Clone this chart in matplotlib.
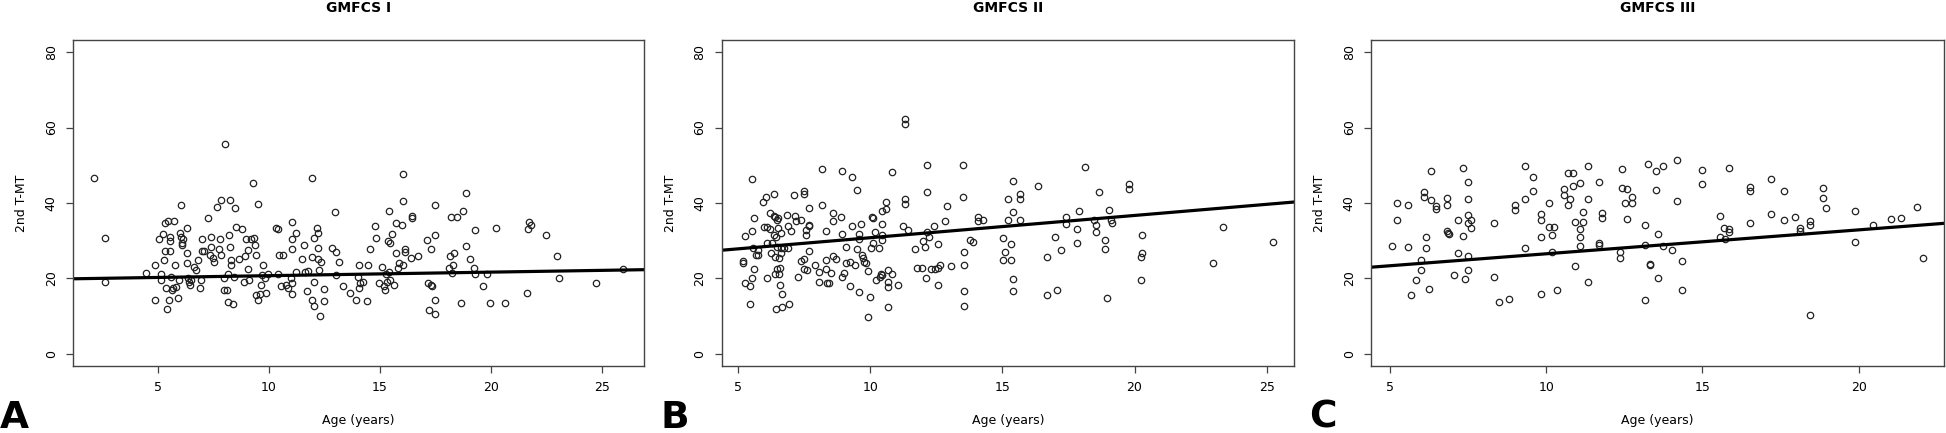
import matplotlib
matplotlib.use("Agg")
import matplotlib.pyplot as plt
import numpy as np

plt.rcParams['font.family'] = ['DejaVu Sans']

# GMFCS I : age (years) vs 2nd T-MT
age_1 = [2.14, 2.64, 2.62, 4.45, 4.88, 4.88, 5.06, 5.14, 5.16, 5.25, 5.29, 5.31, 5.33, 5.39, 5.43,
         5.47, 5.53, 5.55, 5.56, 5.58, 5.51, 5.62, 5.68, 5.72, 5.78, 5.82, 5.92, 5.97, 6.01, 6.03,
         6.05, 6.07, 6.11, 6.15, 6.30, 6.30, 6.32, 6.36, 6.40, 6.44, 6.50, 6.62, 6.73, 6.79, 6.89,
         6.93, 6.99, 6.99, 7.08, 7.28, 7.36, 7.40, 7.41, 7.47, 7.53, 7.67, 7.77, 7.82, 7.86, 7.86,
         7.96, 7.98, 8.04, 8.10, 8.14, 8.15, 8.21, 8.25, 8.27, 8.29, 8.31, 8.39, 8.45, 8.47, 8.51,
         8.64, 8.80, 8.88, 8.93, 8.99, 9.05, 9.07, 9.11, 9.19, 9.28, 9.32, 9.38, 9.40, 9.42, 9.50,
         9.52, 9.58, 9.65, 9.69, 9.73, 9.81, 9.89, 9.97, 10.32, 10.39, 10.41, 10.47, 10.55, 10.63, 10.78,
         10.88, 10.98, 11.02, 11.02, 11.02, 11.02, 11.06, 11.21, 11.23, 11.47, 11.56, 11.62, 11.72, 11.76, 11.95,
         11.95, 11.95, 12.03, 12.03, 12.03, 12.15, 12.21, 12.21, 12.22, 12.26, 12.30, 12.36, 12.48, 12.48, 12.83,
         12.96, 13.02, 13.04, 13.14, 13.32, 13.63, 13.90, 14.00, 14.04, 14.06, 14.09, 14.25, 14.39, 14.46, 14.54,
         14.77, 14.80, 14.97, 15.09, 15.19, 15.23, 15.25, 15.31, 15.36, 15.38, 15.38, 15.44, 15.46, 15.54, 15.62,
         15.70, 15.73, 15.79, 15.85, 15.99, 16.04, 16.04, 16.04, 16.14, 16.14, 16.37, 16.45, 16.45, 16.70, 17.11,
         17.17, 17.21, 17.27, 17.31, 17.33, 17.46, 17.46, 17.46, 17.46, 18.12, 18.15, 18.19, 18.23, 18.28, 18.32,
         18.46, 18.65, 18.71, 18.87, 18.87, 19.06, 19.22, 19.28, 19.29, 19.64, 19.82, 19.94, 20.21, 20.60, 21.63,
         21.65, 21.69, 21.79, 22.47, 22.96, 23.05, 24.71, 25.92]
tmt_1 = [46.7, 30.8, 19.1, 21.5, 23.7, 14.2, 30.4, 21.3, 19.6, 31.7, 24.9, 27.4, 34.7, 17.6, 11.8,
         35.1, 27.4, 31.1, 29.8, 20.4, 14.2, 16.9, 17.6, 35.1, 23.6, 17.8, 14.7, 19.6, 32.0, 31.1,
         39.6, 29.5, 28.9, 30.4, 33.3, 26.7, 24.0, 20.0, 19.1, 18.2, 19.6, 23.1, 22.2, 24.9, 17.6,
         19.7, 30.4, 27.3, 27.3, 36.0, 26.2, 31.1, 28.4, 25.3, 24.3, 38.9, 27.7, 30.4, 26.2, 40.9,
         20.0, 16.9, 55.7, 16.9, 13.8, 21.2, 31.6, 28.4, 40.9, 23.6, 24.9, 13.3, 20.4, 38.7, 33.6,
         25.1, 33.1, 19.1, 26.0, 30.4, 22.4, 27.6, 19.6, 30.4, 45.2, 30.7, 28.9, 26.2, 15.6, 39.8,
         14.2, 16.0, 18.2, 20.9, 23.6, 20.0, 16.2, 21.3, 33.4, 33.1, 21.3, 26.1, 18.0, 26.1, 18.2,
         17.6, 20.0, 35.0, 30.4, 27.7, 18.7, 16.0, 32.0, 21.8, 25.1, 28.8, 21.8, 16.6, 22.0, 46.7,
         25.8, 14.2, 30.7, 19.1, 12.6, 33.5, 25.1, 32.0, 28.1, 22.2, 10.1, 24.4, 17.2, 14.0, 28.1,
         37.5, 27.0, 20.8, 24.4, 18.1, 16.2, 14.4, 20.4, 23.5, 17.4, 18.7, 19.1, 14.0, 23.5, 27.7,
         33.8, 30.8, 18.8, 23.1, 18.1, 16.9, 21.2, 19.1, 30.0, 38.0, 21.7, 19.7, 29.5, 31.7, 18.2,
         26.7, 34.8, 22.9, 24.0, 34.3, 47.8, 40.4, 23.7, 27.7, 26.9, 25.5, 36.6, 36.1, 26.0, 30.2,
         18.8, 11.6, 18.2, 27.7, 18.0, 39.6, 31.5, 14.2, 10.7, 22.7, 26.0, 36.3, 21.5, 23.6, 26.8,
         36.3, 13.6, 38.0, 42.7, 28.6, 25.1, 22.8, 21.2, 32.9, 18.1, 21.2, 13.6, 33.4, 13.6, 16.2,
         33.1, 35.0, 34.2, 31.6, 26.0, 20.0, 18.7, 22.6]

# GMFCS II
age_2 = [5.18, 5.18, 5.25, 5.25, 5.44, 5.44, 5.51, 5.51, 5.54, 5.57, 5.61, 5.61, 5.69, 5.74, 5.77,
         5.94, 5.97, 6.07, 6.10, 6.10, 6.10, 6.20, 6.20, 6.25, 6.30, 6.35, 6.35, 6.36, 6.38, 6.39,
         6.39, 6.43, 6.43, 6.46, 6.46, 6.49, 6.51, 6.53, 6.54, 6.56, 6.59, 6.59, 6.61, 6.62, 6.64,
         6.66, 6.67, 6.72, 6.85, 6.89, 6.89, 6.92, 7.00, 7.10, 7.17, 7.18, 7.26, 7.40, 7.40, 7.49,
         7.49, 7.51, 7.51, 7.56, 7.56, 7.61, 7.67, 7.67, 7.67, 7.67, 7.90, 8.07, 8.07, 8.17, 8.17,
         8.31, 8.31, 8.31, 8.36, 8.43, 8.53, 8.58, 8.58, 8.58, 8.69, 8.89, 8.92, 8.92, 8.92, 9.02,
         9.09, 9.09, 9.23, 9.25, 9.31, 9.31, 9.41, 9.51, 9.51, 9.58, 9.58, 9.59, 9.66, 9.68, 9.73,
         9.77, 9.84, 9.91, 9.92, 10.00, 10.04, 10.07, 10.10, 10.10, 10.18, 10.23, 10.33, 10.36, 10.40, 10.43,
         10.43, 10.45, 10.46, 10.46, 10.58, 10.58, 10.66, 10.66, 10.66, 10.66, 10.81, 10.82, 11.07, 11.33, 11.33,
         11.33, 11.33, 11.25, 11.43, 11.68, 11.76, 11.96, 12.01, 12.09, 12.10, 12.14, 12.14, 12.14, 12.22, 12.30,
         12.40, 12.45, 12.58, 12.58, 12.58, 12.63, 12.83, 12.91, 13.06, 13.52, 13.52, 13.56, 13.56, 13.56, 13.56,
         13.76, 13.89, 14.07, 14.07, 14.25, 15.04, 15.04, 15.09, 15.22, 15.22, 15.32, 15.32, 15.40, 15.40, 15.40,
         15.40, 15.65, 15.65, 15.65, 16.34, 16.67, 16.67, 17.00, 17.06, 17.22, 17.42, 17.42, 17.83, 17.83, 17.88,
         18.14, 18.47, 18.54, 18.54, 18.65, 18.87, 18.87, 18.96, 19.04, 19.11, 19.14, 19.78, 19.78, 20.23, 20.23,
         20.29, 20.29, 22.95, 23.33, 25.23]
tmt_2 = [24.6, 24.2, 31.3, 18.8, 18.0, 13.2, 46.4, 32.7, 20.1, 28.1, 36.0, 22.4, 26.1, 27.6, 26.1,
         40.2, 33.6, 41.7, 33.6, 29.3, 20.1, 33.2, 37.3, 26.8, 29.3, 42.5, 36.6, 31.6, 36.3, 25.6,
         21.1, 31.1, 12.0, 28.4, 22.4, 35.6, 36.0, 33.3, 25.3, 21.3, 22.7, 18.2, 32.0, 28.0, 26.7,
         15.8, 12.4, 28.0, 36.9, 33.8, 28.0, 13.2, 32.5, 42.0, 36.6, 35.1, 20.4, 35.6, 24.7, 43.1,
         42.5, 25.1, 22.4, 32.9, 31.4, 22.2, 34.3, 33.8, 38.6, 27.3, 23.7, 21.8, 19.1, 49.1, 39.6,
         32.7, 24.9, 22.4, 18.8, 18.8, 21.5, 37.3, 35.1, 26.0, 25.1, 36.4, 48.4, 31.9, 20.4, 21.5,
         28.4, 24.0, 18.0, 24.4, 46.9, 33.8, 23.6, 27.7, 43.4, 16.4, 31.7, 30.4, 34.5, 26.2, 25.5,
         24.4, 24.0, 22.0, 9.8, 15.1, 28.2, 36.3, 36.0, 29.5, 32.2, 19.6, 28.2, 20.4, 21.3, 20.8,
         31.6, 34.5, 30.2, 38.0, 40.2, 38.4, 19.1, 17.8, 12.4, 22.2, 21.2, 48.3, 18.2, 41.1, 39.7,
         62.2, 60.9, 34.0, 32.9, 27.7, 22.7, 22.7, 29.8, 28.4, 20.1, 50.2, 42.9, 32.2, 30.9, 22.4,
         33.8, 22.4, 29.1, 18.2, 22.7, 23.6, 35.1, 39.1, 23.3, 50.2, 41.6, 26.9, 23.6, 16.6, 12.8,
         30.2, 29.7, 36.4, 35.1, 35.5, 30.7, 24.9, 27.0, 41.1, 35.6, 24.9, 29.1, 45.7, 37.7, 19.9,
         16.7, 42.5, 41.1, 35.4, 44.4, 25.6, 15.6, 31.1, 16.9, 27.6, 36.4, 34.5, 33.2, 29.5, 37.9,
         49.5, 35.4, 34.1, 32.4, 42.9, 30.2, 27.7, 14.8, 38.2, 35.6, 34.8, 45.1, 43.7, 19.7, 25.8,
         31.5, 26.8, 24.0, 33.6, 29.7]

# GMFCS III
age_3 = [5.07, 5.22, 5.22, 5.58, 5.58, 5.66, 5.82, 5.99, 5.99, 6.08, 6.08, 6.16, 6.16, 6.24, 6.32,
         6.32, 6.48, 6.48, 6.82, 6.82, 6.82, 6.85, 6.90, 7.06, 7.17, 7.17, 7.33, 7.33, 7.41, 7.48,
         7.48, 7.48, 7.48, 7.48, 7.48, 7.58, 7.58, 8.33, 8.33, 8.50, 8.81, 9.00, 9.00, 9.32, 9.32,
         9.32, 9.59, 9.59, 9.84, 9.84, 9.84, 9.84, 10.09, 10.09, 10.18, 10.18, 10.26, 10.34, 10.58, 10.58,
         10.68, 10.68, 10.76, 10.84, 10.84, 10.92, 10.92, 11.08, 11.08, 11.08, 11.08, 11.18, 11.18, 11.34, 11.34,
         11.34, 11.69, 11.69, 11.69, 11.78, 11.78, 12.35, 12.35, 12.43, 12.43, 12.52, 12.59, 12.59, 12.74, 12.74,
         13.17, 13.17, 13.17, 13.25, 13.33, 13.33, 13.51, 13.51, 13.59, 13.59, 13.75, 13.75, 14.01, 14.17, 14.17,
         14.33, 14.33, 14.99, 14.99, 15.57, 15.57, 15.68, 15.73, 15.86, 15.86, 15.86, 16.52, 16.52, 16.52, 17.18,
         17.18, 17.61, 17.61, 17.95, 18.11, 18.11, 18.43, 18.43, 18.43, 18.85, 18.85, 18.94, 19.87, 19.87, 20.46,
         21.03, 21.35, 21.85, 22.05]
tmt_3 = [28.7, 40.1, 35.5, 39.6, 28.4, 15.6, 19.5, 24.8, 22.2, 42.9, 41.7, 31.0, 28.0, 17.2, 48.5,
         40.8, 39.2, 38.3, 41.2, 39.4, 32.5, 32.1, 31.9, 20.9, 35.5, 26.8, 49.4, 31.2, 19.9, 45.6,
         41.0, 36.7, 34.6, 25.9, 22.2, 35.5, 33.5, 34.8, 20.4, 13.8, 14.5, 39.5, 38.1, 49.8, 41.0,
         28.0, 46.9, 43.2, 37.1, 35.5, 30.9, 15.8, 39.9, 33.7, 31.5, 27.1, 33.7, 16.9, 43.8, 42.2,
         39.5, 47.9, 41.0, 47.9, 44.5, 34.9, 23.2, 45.4, 33.0, 31.0, 28.7, 37.7, 34.9, 49.7, 41.0,
         19.0, 45.6, 29.4, 29.0, 37.3, 36.0, 27.0, 25.5, 49.0, 43.9, 39.9, 43.6, 35.8, 41.7, 40.1,
         34.3, 29.0, 14.2, 50.3, 23.9, 23.5, 48.5, 43.4, 31.9, 20.2, 49.8, 28.7, 27.5, 51.3, 40.4,
         24.6, 17.0, 48.8, 45.0, 36.5, 31.0, 33.3, 30.5, 49.4, 33.0, 32.3, 44.3, 43.2, 34.8, 46.3,
         37.0, 43.2, 35.5, 36.4, 33.4, 32.6, 35.2, 34.3, 10.3, 43.9, 41.2, 38.8, 37.9, 29.7, 34.1,
         35.7, 36.1, 39.0, 25.4]

titles = ["GMFCS I", "GMFCS II", "GMFCS III"]
letters = ["A", "B", "C"]
# fitted regression lines (intercept, slope)
intercepts = [19.8, 24.9, 20.2]
slopes = [0.094, 0.59, 0.634]
xticks = [[5, 10, 15, 20, 25], [5, 10, 15, 20, 25], [5, 10, 15, 20]]

ages = [age_1, age_2, age_3]
tmts = [tmt_1, tmt_2, tmt_3]

fig = plt.figure(figsize=(19.46, 4.33), dpi=100)
lefts = [73, 721.6, 1371]
widths = [571, 572.4, 573]

for i in range(3):
    ax = fig.add_axes([lefts[i] / 1946, 1 - 366 / 433, widths[i] / 1946, 326 / 433])
    x = np.array(ages[i])
    y = np.array(tmts[i])
    ax.plot(x, y, 'o', mfc='none', mec='#222222', ms=4.6, mew=0.9)
    ax.axline((0, intercepts[i]), slope=slopes[i], color='black', lw=2.3)

    # R style 4% padding
    pad = (x.max() - x.min()) * 0.04
    ax.set_xlim(x.min() - pad, x.max() + pad)
    ax.set_ylim(-3.2, 83.2)
    ax.set_xticks(xticks[i])
    ax.set_yticks([0, 20, 40, 60, 80])
    ax.set_yticklabels(['0', '20', '40', '60', '80'], rotation=90, va='center')
    ax.tick_params(labelsize=9, length=5, width=0.9, color='#444444', pad=6)
    for s in ax.spines.values():
        s.set_color('#444444')
        s.set_linewidth(1.0)

    ax.set_xlabel('Age (years)', fontsize=9, labelpad=14)
    ax.set_ylabel('2nd T-MT', fontsize=9, labelpad=12)
    ax.set_title(titles[i], fontsize=10, fontweight='bold', pad=20)

letter_x = [14, 675, 1323]
for i in range(3):
    fig.text(letter_x[i] / 1946, 1 - 428 / 433, letters[i], fontsize=27,
             fontweight='bold', ha='center', va='baseline')

fig.savefig('out.png', dpi=100)
